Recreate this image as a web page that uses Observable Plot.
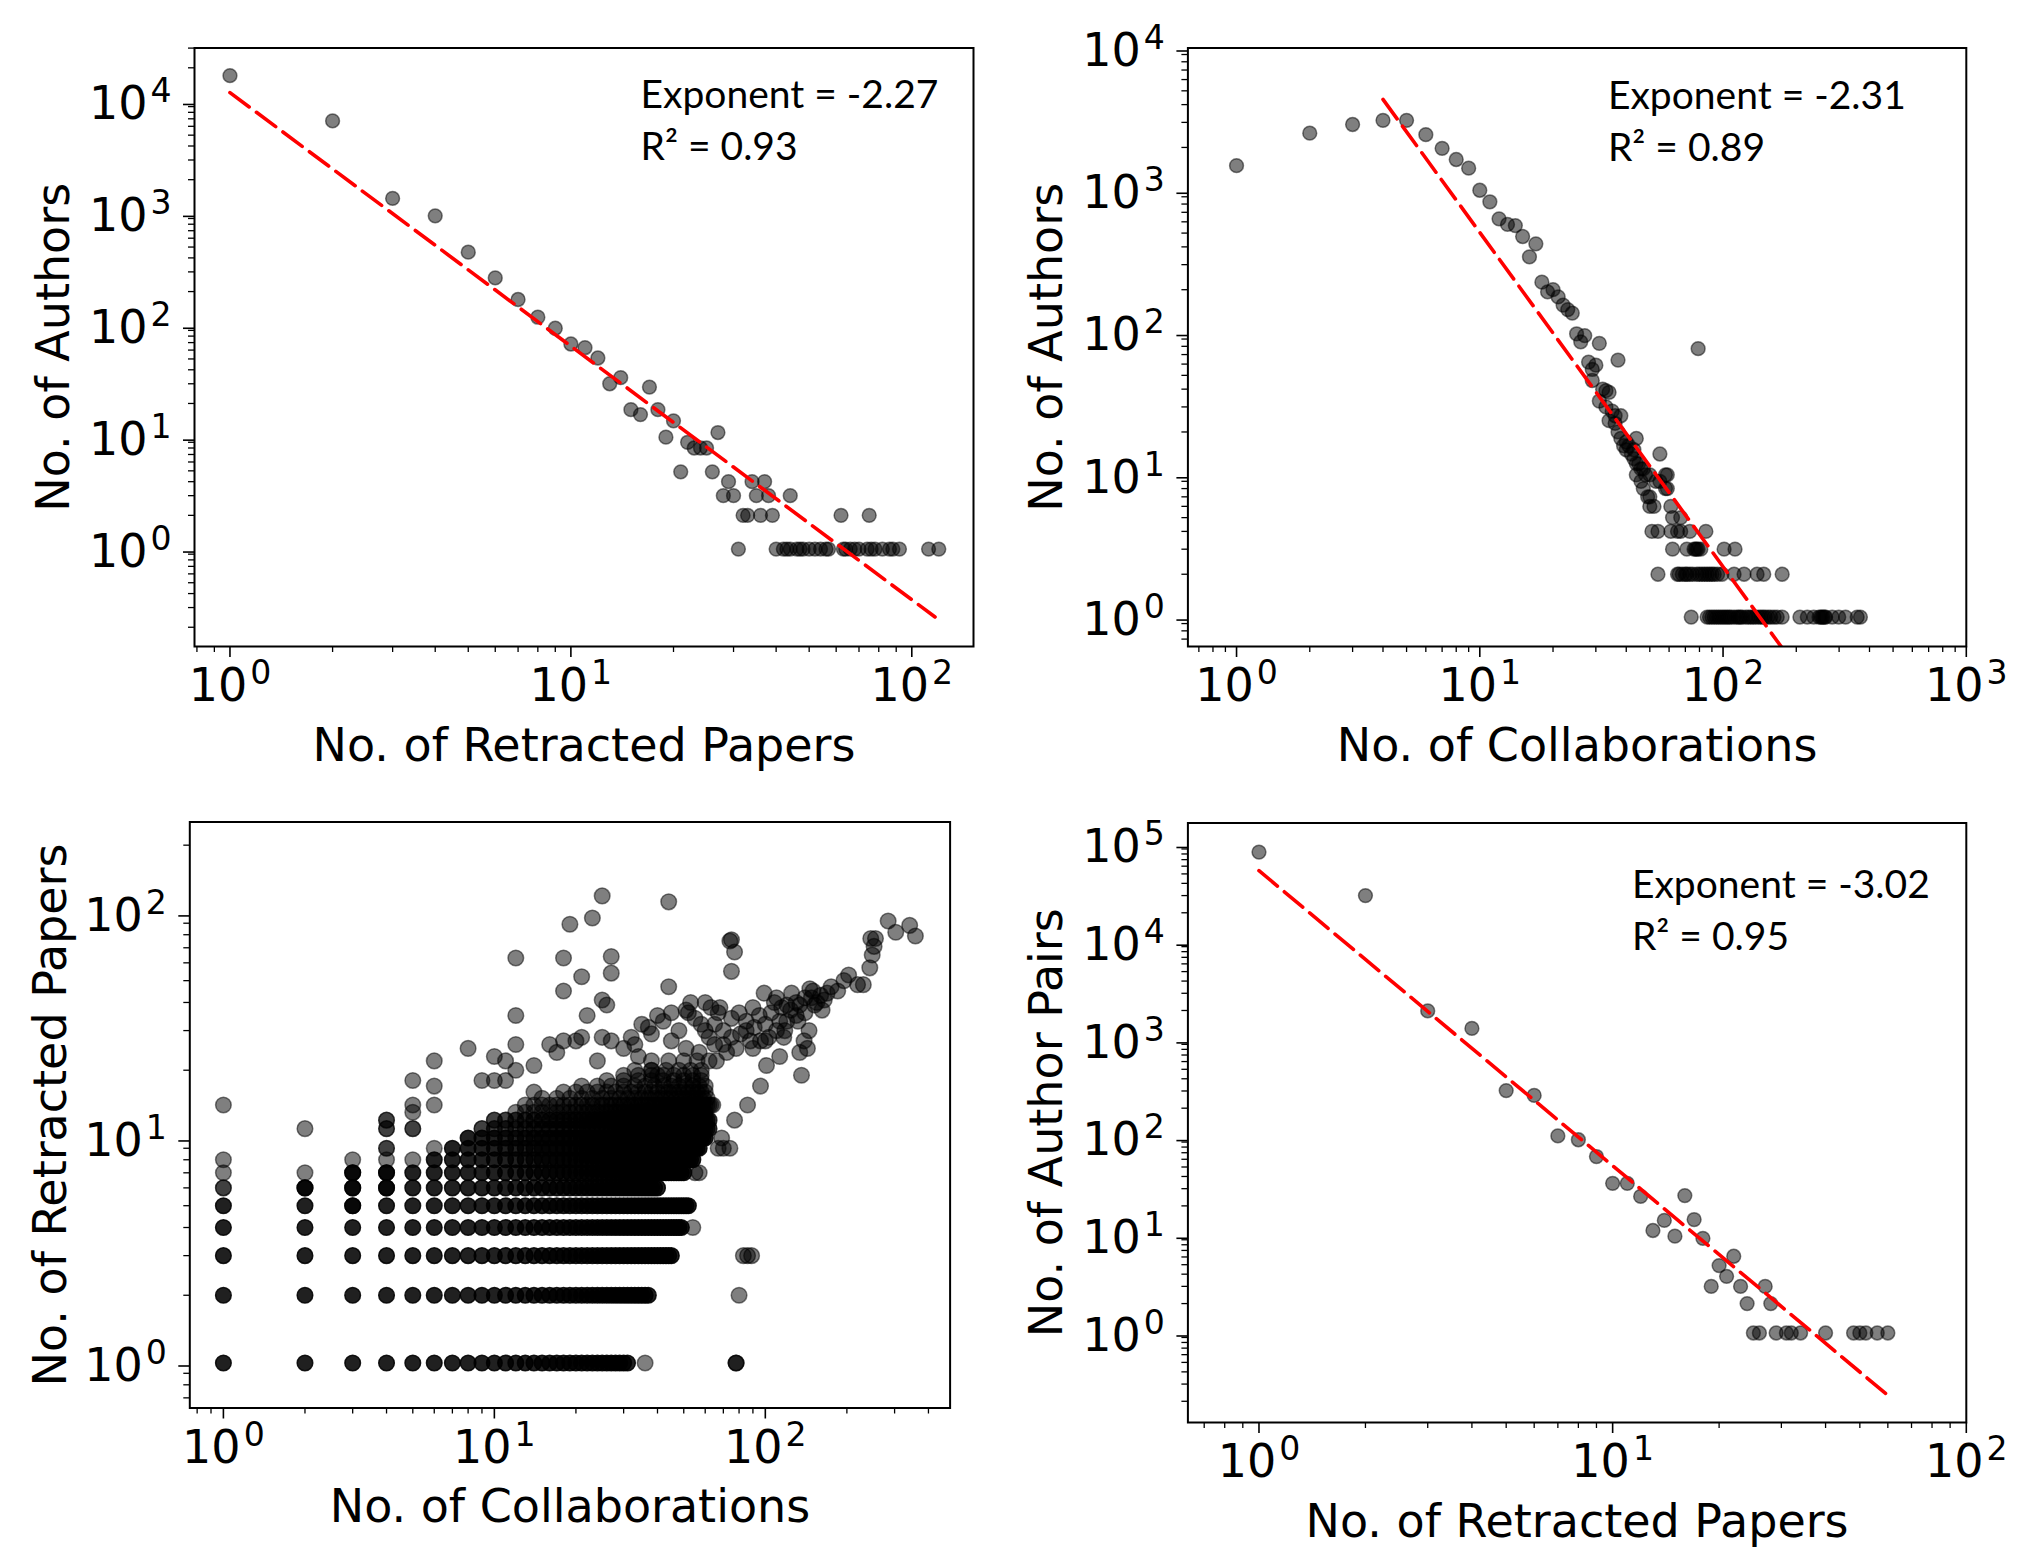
<!DOCTYPE html>
<html>
<head>
<meta charset="utf-8">
<script src="https://cdn.jsdelivr.net/npm/d3@7"></script>
<script src="https://cdn.jsdelivr.net/npm/@observablehq/plot@0.6"></script>
<style>
  html, body { margin: 0; padding: 0; background: #fff; }
  #wrap { position: relative; width: 2026px; height: 1568px; background: #fff; }
  #wrap svg { position: absolute; }
</style>
</head>
<body>
<div id="wrap"></div>
<script>
// ---------- Panel 1: retracted papers per author ----------
const p1Points = [ // [No. of Retracted Papers, No. of Authors]
  [1,17000],[2,6700],[3,1360],[4,950],[5,450],[6,265],[7,170],[8,118],[9,94],[10,68],
  [11,63],[12,51],[13,30],[14,34],[15,17.6],[16,15.9],[17,28],[18,17.6],[19,10],[20,14],
  [21,4.9],[22,9],[23,8],[24,8],[25,8],[26,4.9],[27,11],[28,3],[29,4],[30,3],
  [31,1],[32,2],[33,2],[34,4],[35,3],[36,2],[37,4],[38,3],[39,2],[44,3],[62,2],[75,2],
  [40,1],[42,1],[43,1],[44,1],[46,1],[47,1],[48,1],[50,1],[52,1],[54,1],[56,1],[57,1],
  [63,1],[64,1],[66,1],[68,1],[70,1],[74,1],[76,1],[78,1],[82,1],[86,1],[88,1],[92,1],[112,1],[120,1]
];
const p1Fit = [[1,12000],[117,0.247]];
const p1Exponent = "-2.27", p1R2 = "0.93";

// ---------- Panel 2: collaborations per author ----------
const p2Points = [ // [No. of Collaborations, No. of Authors]
  [1,1490],[2,2520],[3,2900],[4,3100],[5,3100],[6,2460],[7,1970],[8,1645],[9,1430],[10,1000],
  [11,830],[12,630],[13,575],[14,565],[15,473],[16,340],[17,420],[18,226],[19,193],[20,200],
  [21,178],[22,156],[23,145],[24,137],
  [25,98],[27,95],[26,86],[28,62],[30,59],[29,55],[29,46],[37,64],[31,84],[33,39],[34,38],[31,33],
  [32,40],[33,30],[35,28],[36,26],[38,26],[34,24],[36,23],[37,20],[38,18],[44,18],[39,16],[40,17],
  [40,15],[41,16],[42,14],[43,15],[43,13],[44,12],[45,12],[46,11],[47,11],[55,14],[50,10],[48,10],
  [59,10],[58,10],[44,10],[46,9],[53,9],[55,9],[47,8],[58,8],[59,8],[49,7],[50,7],[50,6],[52,6],
  [61,6],[62,5],[67,5],[79,77],
  [51,4],[54,4],[61,4],[65,4],[67,4],[73,4],[85,4],
  [62,3],[71,3],[76,3],[77,3],[78,3],[79,3],[81,3],[101,3],[112,3],
  [54,2],[65,2],[66,2],[68,2],[70,2],[71,2],[73,2],[75,2],[78,2],[80,2],[82,2],[84,2],[86,2],
  [88,2],[90,2],[92,2],[95,2],[99,2],[111,2],[122,2],[138,2],[147,2],[175,2],
  [74,1],[86,1],[88,1],[90,1],[92,1],[94,1],[96,1],[98,1],[100,1],[102,1],[104,1],[106,1],[108,1],
  [111,1],[114,1],[116,1],[118,1],[120,1],[124,1],[127,1],[130,1],[133,1],[136,1],[140,1],[143,1],
  [146,1],[149,1],[153,1],[157,1],[162,1],[167,1],[175,1],[207,1],[222,1],[236,1],[248,1],[252,1],
  [255,1],[258,1],[262,1],[264,1],[281,1],[299,1],[319,1],[356,1],[367,1]
];
const p2Fit = [[4,4350],[190,0.5]];
const p2Exponent = "-2.31", p2R2 = "0.89";

// ---------- Panel 3: collaborations vs retracted papers ----------
const p3Rows = [ // [papers, collaborations from, collaborations to, overlap, collaboration step]
  [1,1,31,3,1],[2,1,37,3,1],[3,1,45,3,1],[4,1,49,3,1],[5,1,52,3,1],[6,2,40,3,1],[7,3,50,3,1],
  [8,6,54,3,1],[9,7,57,3,1],[10,8,60,3,1],[11,9,62,2,1],[12,10,62,2,1],[13,12,60,1,1],
  [14,13,64,1,1],[15,15,62,1,2],[16,18,60,1,2],[17,21,62,1,3],[18,26,58,1,4],[19,30,60,1,4],
  [20,33,62,1,5],[22,38,64,1,6]
];
const p3Dark = [ // [collaborations, papers] overlapping pairs
  [1,6],[2,6],[3,5],[3,6],[3,7],[4,6],[4,7],[4,9],[4,11],[4,12],[5,11],[78,1]
];
const p3Light = [ // [collaborations, papers]
  [1,7],[1,8],[1,14],[2,7],[2,11],[3,8],[4,8],[5,8],[5,13],[5,14],[5,18],[6,9],[6,14],[6,17],[6,22],
  [8,25],[10,23],[11,22],[12,26],[12,20],[14,21],[16,26],[17,24],[18,27],[20,27],[21,28],[14,16],
  [9,18],[10,18],[11,18],[24,22],[25,28],[27,27],[33,26],[34,23],[38,20],[40,19],
  [25,119],[44,112],[19,89],[23,95],[12,63],[18,63],[27,64],[27,54],[21,52],[18,45],[12,35],[44,47],
  [26,39],[25,41],[22,35],[40,35],[37,31],[75,76],[74,75],[77,67],[75,55],[284,92],[303,82],[341,88],[358,79],
  [245,77],[255,77],[252,71],[248,65],[243,57],[203,53],[219,48],[230,48],[169,44],[146,46],[148,42],
  [99,44],[108,40],[120,39],[124,37],[134,39],[152,39],[162,37],[113,33],[132,33],[145,30],[139,27],
  [134,24],[143,25],[113,23],[136,19],[91,31],[81,29],[103,28],[117,28],[96,27],[63,38],[67,36],
  [53,40],[51,37],[55,34],[62,28],[51,25],[70,26],[57,24],[101,21],[96,17],[86,14],[77,12],[69,10],
  [67,9],[55,7],[36,1],[80,2],[83,3],[86,3],[89,3],[54,4],[57,7],[70,9],[74,9],
  [60,30],[65,32],[70,30],[75,34],[80,36],[85,33],[90,38],[95,35],[105,36],[110,42],[115,38],
  [125,44],[130,40],[140,42],[150,45],[160,43],[175,47],[90,25],[100,27],[110,30],[120,33],[75,28],
  [85,30],[65,26],[58,32],[48,30],[45,27],[42,33],[52,36],[60,40],[68,38],[45,36],[38,29],[35,32],
  [32,28],[30,25],[185,45],[195,50],[130,35],[118,30],[88,27],[78,25],[66,22],[72,24],[100,32],
  [140,36],[155,40],[165,41],[78,1]
];

// ---------- Panel 4: retracted papers per author pair ----------
const p4Points = [ // [No. of Retracted Papers, No. of Author Pairs]
  [1,83600],[2,30000],[3,1980],[4,1310],[5,303],[6,270],[7,104],[8,95],[9,64],[10,34],
  [11,34],[12,25],[13,11.2],[14,14.2],[15,9.8],[16,25.5],[17,14.5],[18,9.3],[19,3],[20,4.9],
  [21,3.8],[22,6.1],[23,3],[24,2],[25,1],[26,1],[27,3],[28,2],[29,1],[31,1],[32,1],[34,1],
  [40,1],[48,1],[50,1],[52,1],[56,1],[60,1]
];
const p4Fit = [[1,54000],[59.6,0.235]];
const p4Exponent = "-3.02", p4R2 = "0.95";

// ---------- axis ticks and labels ----------
const ticks0to2 = [1,10,100], labels0to2 = ["10^0","10^1","10^2"];
const ticks0to3 = [1,10,100,1000], labels0to3 = ["10^0","10^1","10^2","10^3"];
const ticks0to4 = [1,10,100,1000,10000], labels0to4 = ["10^0","10^1","10^2","10^3","10^4"];
const ticks0to5 = [1,10,100,1000,10000,100000], labels0to5 = ["10^0","10^1","10^2","10^3","10^4","10^5"];

function minorTicks([a, b]) {
  const out = [];
  for (let k = Math.floor(Math.log10(a)) - 1; k <= Math.ceil(Math.log10(b)); k++)
    for (let m = 2; m <= 9; m++) { const v = m * Math.pow(10, k); if (v >= a && v <= b) out.push(v); }
  return out;
}
const toObjs = (arr, n) => arr.map(([x, y]) => ({x, y, n}));

function renderPanel(c) {
  const xf = d => c.xLabels[c.xTicks.indexOf(d)] ?? "";
  const yf = d => c.yLabels[c.yTicks.indexOf(d)] ?? "";
  const marks = [
    Plot.axisX({ticks: minorTicks(c.xDomain), tickSize: 6, tickFormat: () => "", strokeWidth: 1.3, label: null}),
    Plot.axisX({ticks: c.xTicks, tickSize: 11, tickPadding: 11, tickFormat: xf, fontSize: 46, strokeWidth: 1.6, label: null}),
    Plot.axisY({ticks: minorTicks(c.yDomain), tickSize: 6, tickFormat: () => "", strokeWidth: 1.3, label: null}),
    Plot.axisY({ticks: c.yTicks, tickSize: 11, tickPadding: 12, dy: 3, tickFormat: yf, fontSize: 46, strokeWidth: 1.6, label: null}),
    Plot.dot(c.points, {x: "x", y: "y", r: c.r, fill: "black", stroke: "black", strokeWidth: 1.5,
      fillOpacity: d => 1 - Math.pow(0.5, d.n), strokeOpacity: d => 1 - Math.pow(0.5, d.n)})
  ];
  if (c.fit) marks.push(Plot.line(c.fit.map(([x, y]) => ({x, y})), {x: "x", y: "y", stroke: "#ff0000", strokeWidth: 3.6, strokeDasharray: "24,9", clip: true}));
  marks.push(Plot.frame({stroke: "black", strokeWidth: 2}));
  marks.push(Plot.text([c.xTitle], {frameAnchor: "bottom", dy: c.xTitleDy, textAnchor: "middle", lineAnchor: "top", fontSize: 46, text: d => d, fill: "black"}));
  marks.push(Plot.text([c.yTitle], {frameAnchor: "left", dx: c.yTitleDx, rotate: -90, textAnchor: "middle", lineAnchor: "top", fontSize: 46, text: d => d, fill: "black"}));
  if (c.note) marks.push(Plot.text([c.note], {frameAnchor: "top-left", dx: c.noteDx, dy: c.noteDy, textAnchor: "start", lineAnchor: "top",
    fontSize: 39, fontFamily: "Lato", lineHeight: 1.33, text: d => d, fill: "black"}));

  const svg = Plot.plot({
    width: c.width, height: c.height,
    marginLeft: c.ml, marginRight: c.mr, marginTop: c.mt, marginBottom: c.mb,
    style: {fontFamily: "DejaVu Sans", background: "white", color: "black", overflow: "visible"},
    x: {type: "log", domain: c.xDomain},
    y: {type: "log", domain: c.yDomain},
    marks
  });
  svg.style.left = c.left + "px";
  svg.style.top = c.top + "px";
  // matplotlib-style superscript exponents
  d3.select(svg).selectAll('g[aria-label$="tick label"] text').each(function () {
    const m = (this.textContent || "").match(/^(\d+)\^(-?\d+)$/);
    if (!m) return;
    const t = d3.select(this);
    t.text(m[1]);
    t.append("tspan").attr("dx", "3").attr("dy", "-17").attr("font-size", "0.72em").text(m[2]);
  });
  document.getElementById("wrap").appendChild(svg);
}

renderPanel({
  left: 0, top: 0, width: 1013, height: 784, ml: 194, mr: 40, mt: 47.5, mb: 138,
  xDomain: [0.787, 151.7], yDomain: [0.1346, 30060],
  xTicks: ticks0to2, xLabels: labels0to2, yTicks: ticks0to4, yLabels: labels0to4,
  points: toObjs(p1Points, 1), r: 6.9, fit: p1Fit,
  xTitle: "No. of Retracted Papers", yTitle: "No. of Authors", xTitleDy: 81.5, yTitleDx: -158.5,
  note: `Exponent = ${p1Exponent}\nR² = ${p1R2}`, noteDx: 446, noteDy: 23
});
renderPanel({
  left: 1013, top: 0, width: 1013, height: 784, ml: 174.4, mr: 60.2, mt: 47.5, mb: 138,
  xDomain: [0.631, 1000], yDomain: [0.621, 10000],
  xTicks: ticks0to3, xLabels: labels0to3, yTicks: ticks0to4, yLabels: labels0to4,
  points: toObjs(p2Points, 1), r: 6.9, fit: p2Fit,
  xTitle: "No. of Collaborations", yTitle: "No. of Authors", xTitleDy: 81.5, yTitleDx: -158.5,
  note: `Exponent = ${p2Exponent}\nR² = ${p2R2}`, noteDx: 420, noteDy: 24
});
const p3Objs = [];
for (const [y, a, b, n, step] of p3Rows) for (let x = a; x <= b; x += step) p3Objs.push({x, y, n});
p3Objs.push(...toObjs(p3Dark, 2), ...toObjs(p3Light, 1));
renderPanel({
  left: 0, top: 784, width: 1013, height: 784, ml: 189.3, mr: 63.4, mt: 37.5, mb: 160.5,
  xDomain: [0.7516, 480.8], yDomain: [0.631, 253.5],
  xTicks: ticks0to2, xLabels: labels0to2, yTicks: ticks0to2, yLabels: labels0to2,
  points: p3Objs, r: 7.8, fit: null,
  xTitle: "No. of Collaborations", yTitle: "No. of Retracted Papers", xTitleDy: 81.5, yTitleDx: -156
});
renderPanel({
  left: 1013, top: 784, width: 1013, height: 784, ml: 174.4, mr: 60.2, mt: 38.5, mb: 146,
  xDomain: [0.6295, 100], yDomain: [0.1213, 165960],
  xTicks: ticks0to2, xLabels: labels0to2, yTicks: ticks0to5, yLabels: labels0to5,
  points: toObjs(p4Points, 1), r: 6.9, fit: p4Fit,
  xTitle: "No. of Retracted Papers", yTitle: "No. of Author Pairs", xTitleDy: 82, yTitleDx: -158.5,
  note: `Exponent = ${p4Exponent}\nR² = ${p4R2}`, noteDx: 444, noteDy: 38
});
</script>
</body>
</html>
